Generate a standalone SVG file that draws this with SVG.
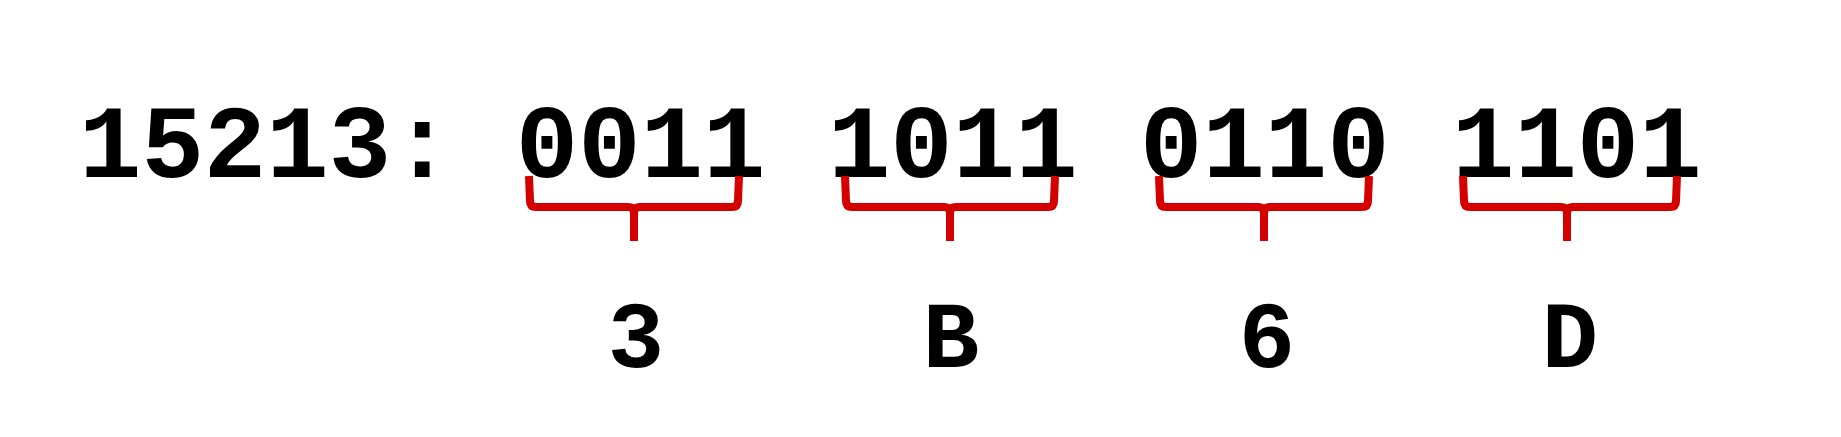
<svg xmlns="http://www.w3.org/2000/svg" width="1841" height="437" viewBox="0 0 1841 437">
<style>
.num{font-family:"Liberation Mono","Courier New",monospace;font-weight:bold;font-size:104px;fill:#000}
.hex{font-family:"Liberation Mono","Courier New",monospace;font-weight:bold;font-size:94px;fill:#000;text-anchor:middle}
.brace{fill:none;stroke:#d40000;stroke-width:8;stroke-linejoin:round}
</style>
<rect width="1841" height="437" fill="#fff"/>
<g id="bits"><text class="num" x="79" y="177" xml:space="preserve">15213: 0011 1011 0110 1101</text></g>
<g id="connectors">
<path class="brace" d="M529 176 L530 201 Q530 207 536 207 L628 207 Q634 207 634 214 L634 241 M634 214 Q634 207 640 207 L732 207 Q738 207 738 201 L739 176"/>
<path class="brace" d="M845 176 L846 201 Q846 207 852 207 L944 207 Q950 207 950 214 L950 241 M950 214 Q950 207 956 207 L1048 207 Q1054 207 1054 201 L1055 176"/>
<path class="brace" d="M1159 176 L1160 201 Q1160 207 1166 207 L1258 207 Q1264 207 1264 214 L1264 241 M1264 214 Q1264 207 1270 207 L1362 207 Q1368 207 1368 201 L1369 176"/>
<path class="brace" d="M1463 176 L1464 201 Q1464 207 1470 207 L1561 207 Q1567 207 1567 214 L1567 241 M1567 214 Q1567 207 1573 207 L1670 207 Q1676 207 1676 201 L1677 176"/>
</g>
<g id="hex3"><text class="hex" x="636" y="367">3</text></g>
<g id="hexB"><text class="hex" x="951" y="367">B</text></g>
<g id="hex6"><text class="hex" x="1267" y="367">6</text></g>
<g id="hexD"><text class="hex" x="1570" y="367">D</text></g>
</svg>
